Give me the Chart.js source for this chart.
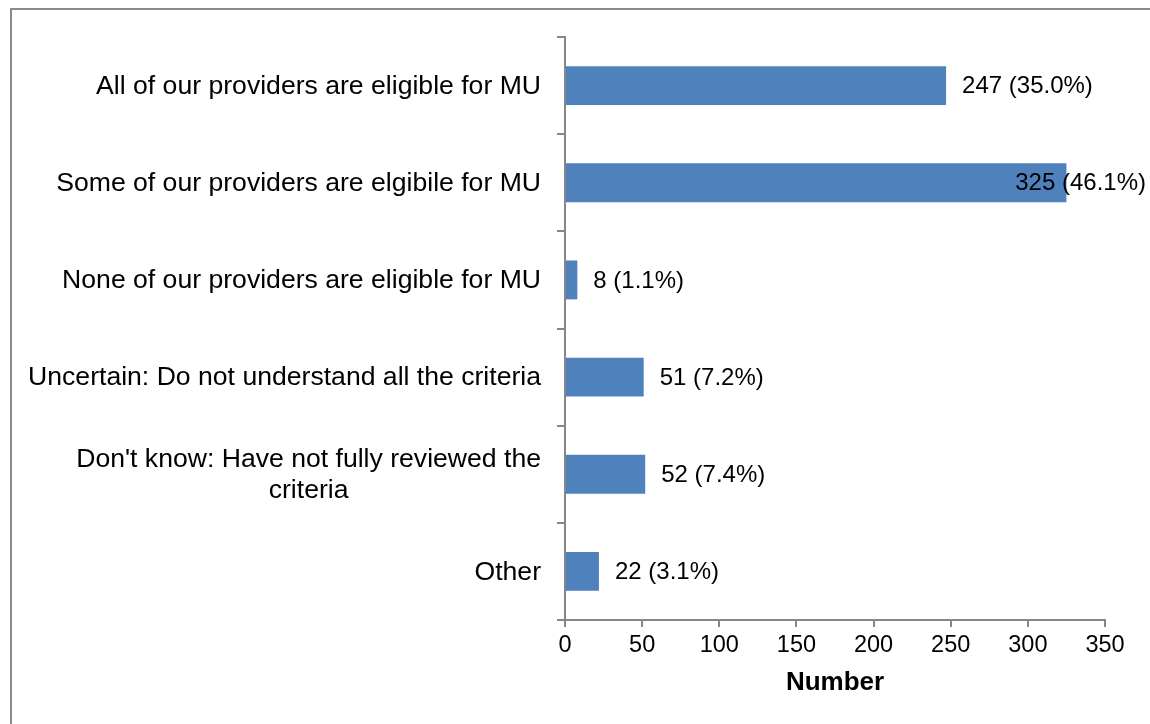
<!DOCTYPE html>
<html>
<head>
<meta charset="utf-8">
<script src="https://cdn.jsdelivr.net/npm/chart.js@4.4.0/dist/chart.umd.min.js"></script>
<style>
  html, body { margin: 0; padding: 0; background: #ffffff; }
  #wrap { position: relative; width: 1150px; height: 724px; }
</style>
</head>
<body>
<div id="wrap"><canvas id="c" width="1150" height="724"></canvas></div>
<script>
// ---- data ----
const categories = [
  ["All of our providers are eligible for MU"],
  ["Some of our providers are elgibile for MU"],
  ["None of our providers are eligible for MU"],
  ["Uncertain: Do not understand all the criteria"],
  ["Don't know: Have not fully reviewed the", "criteria"],
  ["Other"]
];
const counts = [247, 325, 8, 51, 52, 22];
const percents = ["35.0%", "46.1%", "1.1%", "7.2%", "7.4%", "3.1%"];
const xTickMin = 0;
const xTickMax = 350;
const xTickStep = 50;
const xTitle = "Number";

const FONT = "'Liberation Sans', Arial, Helvetica, sans-serif";

const framePlugin = {
  id: 'frame',
  beforeDraw(chart) {
    const ctx = chart.ctx;
    ctx.save();
    ctx.fillStyle = '#ffffff';
    ctx.fillRect(0, 0, chart.width, chart.height);
    ctx.strokeStyle = '#8a8a8a';
    ctx.lineWidth = 2;
    ctx.strokeRect(11, 9, chart.width + 20, chart.height + 20);
    ctx.restore();
  }
};

const catLabelPlugin = {
  id: 'catLabels',
  afterDraw(chart) {
    const ctx = chart.ctx;
    const y = chart.scales.y;
    const rightEdge = chart.chartArea.left - 24;
    const fs = 26.6, lh = 31;
    ctx.save();
    ctx.font = fs + 'px ' + FONT;
    ctx.fillStyle = '#000000';
    ctx.textBaseline = 'middle';
    ctx.textAlign = 'center';
    categories.forEach((lines, i) => {
      const cy = y.getPixelForValue(i) + 1;
      const w = Math.max(...lines.map(l => ctx.measureText(l).width));
      const cx = rightEdge - w / 2;
      const top = cy - (lines.length - 1) * lh / 2;
      lines.forEach((l, k) => ctx.fillText(l, cx, top + k * lh));
    });
    ctx.restore();
  }
};

const valueLabelPlugin = {
  id: 'valueLabels',
  afterDatasetsDraw(chart) {
    const ctx = chart.ctx;
    const meta = chart.getDatasetMeta(0);
    ctx.save();
    ctx.font = '24px ' + FONT;
    ctx.fillStyle = '#000000';
    ctx.textBaseline = 'middle';
    ctx.textAlign = 'left';
    meta.data.forEach((bar, i) => {
      const txt = counts[i] + ' (' + percents[i] + ')';
      const w = ctx.measureText(txt).width;
      let x = bar.x + 16;
      if (x + w > chart.width - 4) x = chart.width - 4 - w;
      ctx.fillText(txt, x, bar.y + 1);
    });
    ctx.restore();
  }
};

new Chart(document.getElementById('c'), {
  type: 'bar',
  data: {
    labels: categories,
    datasets: [{
      data: counts,
      backgroundColor: '#4f81bd',
      borderWidth: 0,
      barPercentage: 0.4,
      categoryPercentage: 1.0
    }]
  },
  options: {
    indexAxis: 'y',
    responsive: false,
    animation: false,
    devicePixelRatio: 1,
    layout: { padding: { top: 37, right: 45, left: 0, bottom: 0 } },
    plugins: {
      legend: { display: false },
      tooltip: { enabled: false },
      title: { display: false }
    },
    scales: {
      x: {
        type: 'linear',
        min: xTickMin,
        max: xTickMax,
        ticks: {
          stepSize: xTickStep,
          color: '#000000',
          font: { family: FONT, size: 23.5 },
          padding: 4
        },
        grid: {
          drawOnChartArea: false,
          drawTicks: true,
          tickLength: 7,
          tickColor: '#868686',
          lineWidth: 2
        },
        border: { display: true, color: '#868686', width: 2 },
        title: {
          display: true,
          text: xTitle,
          color: '#000000',
          font: { family: FONT, size: 26, weight: 'bold' },
          padding: { top: 0, bottom: 26 }
        },
        afterFit(scale) { scale.height = 104; }
      },
      y: {
        type: 'category',
        offset: true,
        ticks: { display: false },
        grid: {
          offset: true,
          drawOnChartArea: false,
          drawTicks: true,
          tickLength: 8,
          tickColor: '#868686',
          lineWidth: 2
        },
        border: { display: true, color: '#868686', width: 2 },
        afterFit(scale) { scale.width = 565; }
      }
    }
  },
  plugins: [framePlugin, catLabelPlugin, valueLabelPlugin]
});
</script>
</body>
</html>
